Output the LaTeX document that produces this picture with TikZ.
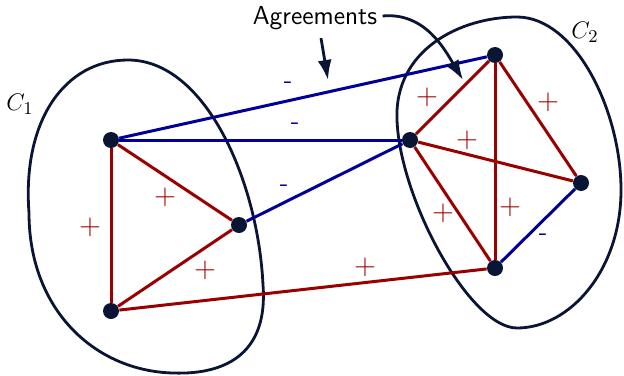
\documentclass[tikz,border=0pt]{standalone}
\usepackage{amsmath,amssymb}
\usepackage{tikz}
\usepackage{xcolor}
\usetikzlibrary{arrows.meta}
\definecolor{AgreeRed}{HTML}{990000}
\definecolor{DisBlue}{HTML}{000099}
\definecolor{ClusterNavy}{HTML}{0A1535}

\begin{document}
\begin{tikzpicture}[x=0.5pt, y=-0.5pt,
  vertex/.style={circle, fill=ClusterNavy, inner sep=0pt, minimum size=8pt},
  posedge/.style={draw=AgreeRed, line width=1.5pt},
  negedge/.style={draw=DisBlue, line width=1.5pt},
  plabel/.style={text=AgreeRed, inner sep=0pt, font=\fontsize{14}{16}\selectfont},
  nlabel/.style={text=DisBlue, inner sep=0pt, font=\sffamily\fontsize{13}{15}\selectfont},
  cluster/.style={draw=ClusterNavy, line width=1.4pt},
  callout/.style={-{Latex[length=10pt,width=7pt]}, draw=ClusterNavy, line width=1.4pt}
]
  \useasboundingbox (0,0) rectangle (624,375);

  % clusters
  \draw[cluster] (128,60) .. controls (205,60) and (258,180) .. (263,285)
    .. controls (268,350) and (230,375) .. (173,373)
    .. controls (95,371) and (29,310) .. (29,213)
    .. controls (22,120) and (65,60) .. cycle;
  \draw[cluster] (517,17) .. controls (575,17) and (621,110) .. (621,190)
    .. controls (621,270) and (570,328) .. (517,328)
    .. controls (470,328) and (400,200) .. (397,120)
    .. controls (394,50) and (460,17) .. cycle;
  \node[font=\fontsize{13}{15}\selectfont] (c1) at (20,104) {$C_1$};
  \node[font=\fontsize{13}{15}\selectfont] (c2) at (585,32) {$C_2$};

  % vertices
  \node[vertex] (a) at (111,140) {};
  \node[vertex] (b) at (111,311) {};
  \node[vertex] (c) at (239,225) {};
  \node[vertex] (d) at (410,140) {};
  \node[vertex] (e) at (495,55) {};
  \node[vertex] (f) at (581,183) {};
  \node[vertex] (g) at (495,268) {};

  % agreements
  \draw[posedge] (a) -- (b);
  \draw[posedge] (a) -- (c);
  \draw[posedge] (b) -- (c);
  \draw[posedge] (b) -- (g);
  \draw[posedge] (d) -- (e);
  \draw[posedge] (e) -- (f);
  \draw[posedge] (d) -- (f);
  \draw[posedge] (d) -- (g);
  \draw[posedge] (e) -- (g);
  % disagreements
  \draw[negedge] (a) -- (e);
  \draw[negedge] (a) -- (d);
  \draw[negedge] (c) -- (d);
  \draw[negedge] (f) -- (g);

  \node[plabel] (pab) at (90,227) {$+$};
  \node[plabel] (pac) at (165,197) {$+$};
  \node[plabel] (pbc) at (205,270) {$+$};
  \node[plabel] (pbg) at (365,267) {$+$};
  \node[plabel] (pde) at (427,97) {$+$};
  \node[plabel] (pef) at (548,102) {$+$};
  \node[plabel] (pdf) at (467,140) {$+$};
  \node[plabel] (pdg) at (443,213) {$+$};
  \node[plabel] (peg) at (510,207) {$+$};
  \node[nlabel] (nae) at (288,85) {-};
  \node[nlabel] (nad) at (295,126) {-};
  \node[nlabel] (ncd) at (284,188) {-};
  \node[nlabel] (nfg) at (543,237) {-};

  % callout
  \node[font=\sffamily\fontsize{13}{15}\selectfont, inner sep=1pt] (agree) at (315,18) {Agreements};
  \coordinate (tipl) at (328,80);
  \coordinate (tipr) at (463,80);
  \draw[callout] (agree.south) ++(6,6) -- (tipl);
  \draw[callout] (agree.east) ++(3,-2) .. controls (425,12) and (445,50) .. (tipr);
\end{tikzpicture}
\end{document}
